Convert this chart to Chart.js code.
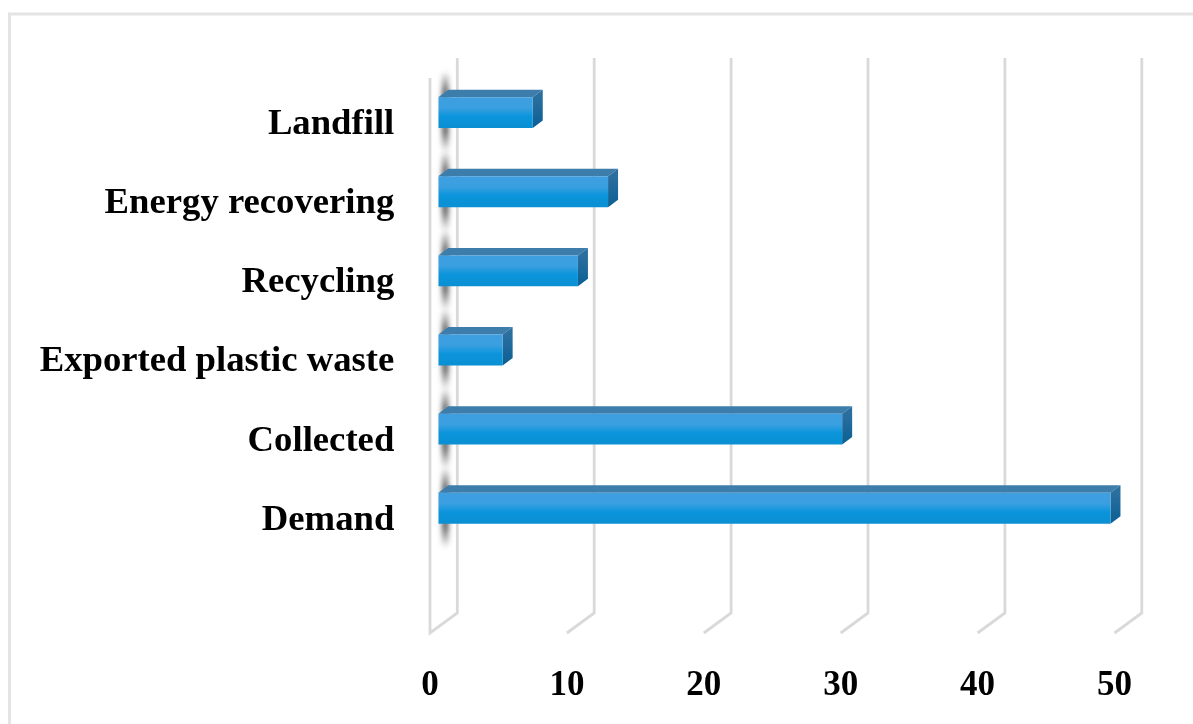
<!DOCTYPE html>
<html>
<head>
<meta charset="utf-8">
<title>Plastic waste</title>
<script src="https://cdn.jsdelivr.net/npm/chart.js@4/dist/chart.umd.js"></script>
<style>
  html, body { margin: 0; padding: 0; background: #fff; overflow: hidden; }
  #box { position: absolute; left: 0; top: 0; width: 1193px; height: 724px; }
</style>
</head>
<body>
<div id="box"><canvas id="grafico" width="1193" height="724"></canvas></div>
<script>
const categorias = ["Landfill", "Energy recovering", "Recycling", "Exported plastic waste", "Collected", "Demand", ""];
const valores = [6.9, 12.4, 10.2, 4.7, 29.5, 49.1, null];
const ticksValor = [0, 10, 20, 30, 40, 50];

const fonte = "'Liberation Serif', serif";
const corGrade = "#d9d9d9";

// desenha as paredes e a grade em perspectiva (a escala x fica no plano das barras)
const grade3d = {
    id: "grade3d",
    beforeDatasetsDraw(chart) {
        const { ctx, scales } = chart;
        const bx = 19, by = -14;     // plano das barras -> parede do fundo
        const fx = -8.3, fy = 6;     // plano das barras -> frente
        const fundoTopo = 58, base = scales.y.bottom;
        ctx.save();

        // moldura da figura
        ctx.strokeStyle = "#e4e4e4";
        ctx.lineWidth = 3;
        ctx.beginPath();
        ctx.moveTo(9.5, 724);
        ctx.lineTo(9.5, 14);
        ctx.lineTo(1193, 14);
        ctx.stroke();

        ctx.strokeStyle = corGrade;
        ctx.lineWidth = 2.8;
        ctx.lineJoin = "miter";
        ticksValor.forEach(v => {
            const x = scales.x.getPixelForValue(v);
            ctx.beginPath();
            ctx.moveTo(x + bx, fundoTopo);
            ctx.lineTo(x + bx, base + by);
            ctx.lineTo(x + fx, base + fy);
            if (v === 0) ctx.lineTo(x + fx, 78);
            ctx.stroke();
        });

        // sombra borrada do eixo, acima e abaixo de cada barra
        const meta = chart.getDatasetMeta(0);
        ctx.filter = "blur(2.5px)";
        meta.data.forEach((bar, i) => {
            if (valores[i] === null) return;
            const topo = bar.y - bar.height / 2;
            const fim = bar.y + bar.height / 2;
            const g = ctx.createLinearGradient(0, topo - 26, 0, fim + 24);
            const n = bar.height + 50;
            g.addColorStop(0, "rgba(70,70,70,0)");
            g.addColorStop(20 / n, "rgba(70,70,70,0.8)");
            g.addColorStop((n - 20) / n, "rgba(70,70,70,0.8)");
            g.addColorStop(1, "rgba(70,70,70,0)");
            ctx.fillStyle = g;
            ctx.fillRect(bar.base + 3.5, topo - 26, 7, n);
        });
        ctx.filter = "none";

        // faces de cima e do lado
        const dx = 10, dy = -7.5;
        meta.data.forEach((bar, i) => {
            if (valores[i] === null) return;
            const topo = bar.y - bar.height / 2;
            const fim = bar.y + bar.height / 2;
            ctx.fillStyle = "#3d7dab";
            ctx.beginPath();
            ctx.moveTo(bar.base, topo);
            ctx.lineTo(bar.base + dx, topo + dy);
            ctx.lineTo(bar.x + dx, topo + dy);
            ctx.lineTo(bar.x, topo);
            ctx.closePath();
            ctx.fill();

            const lado = ctx.createLinearGradient(0, topo, 0, fim);
            lado.addColorStop(0, "#2b6f9f");
            lado.addColorStop(1, "#0b5f93");
            ctx.fillStyle = lado;
            ctx.beginPath();
            ctx.moveTo(bar.x, topo);
            ctx.lineTo(bar.x + dx, topo + dy);
            ctx.lineTo(bar.x + dx, fim + dy);
            ctx.lineTo(bar.x, fim);
            ctx.closePath();
            ctx.fill();
        });
        ctx.restore();
    }
};

function gradienteBarra(context) {
    const { chart, dataIndex } = context;
    const y = chart.scales.y;
    const c = y ? y.getPixelForValue(dataIndex) : NaN;
    if (!Number.isFinite(c)) return "#0d95da";
    const g = chart.ctx.createLinearGradient(0, c - 15.5, 0, c + 15.5);
    g.addColorStop(0, "#3f9fe0");
    g.addColorStop(0.35, "#3a9fe0");
    g.addColorStop(0.62, "#0b95dc");
    g.addColorStop(1, "#0a8fd2");
    return g;
}

new Chart(document.getElementById("grafico").getContext("2d"), {
    type: "bar",
    data: {
        labels: categorias,
        datasets: [{
            data: valores,
            backgroundColor: gradienteBarra,
            borderWidth: 0,
            categoryPercentage: 1,
            barPercentage: 0.39
        }]
    },
    options: {
        indexAxis: "y",
        responsive: false,
        animation: false,
        layout: { padding: { top: 73, right: 70.2, bottom: 0, left: 0 } },
        plugins: { legend: { display: false }, tooltip: { enabled: false } },
        scales: {
            x: {
                type: "linear",
                min: 0,
                max: 50,
                afterFit(scale) { scale.height = 97; },
                grid: { display: false },
                border: { display: false },
                ticks: {
                    stepSize: 10,
                    maxRotation: 0,
                    padding: 30,
                    labelOffset: -8.3,
                    color: "#000",
                    font: { family: fonte, size: 35, weight: "bold" }
                }
            },
            y: {
                afterFit(scale) { scale.width = 438.3; },
                grid: { display: false },
                border: { display: false },
                ticks: {
                    padding: 36,
                    labelOffset: 12,
                    autoSkip: false,
                    color: "#000",
                    font: { family: fonte, size: 36.7, weight: "bold" }
                }
            }
        }
    },
    plugins: [grade3d]
});
</script>
</body>
</html>
